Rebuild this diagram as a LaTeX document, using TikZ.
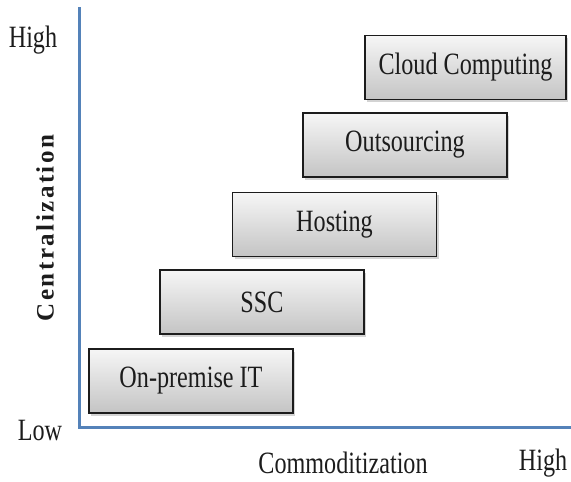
\documentclass[tikz,border=0pt]{standalone}
\usepackage{xcolor}
\usepackage{fontspec}
\setmainfont{Liberation Serif}
\newfontfamily\narrowfont[FakeStretch=0.78]{Liberation Serif}
\newfontfamily\spacedfont[LetterSpace=10]{Liberation Serif}
\usepackage{tikz}
\usetikzlibrary{shadows}

\definecolor{axisblue}{RGB}{84,130,185}
\definecolor{boxtop}{RGB}{246,246,246}
\definecolor{boxbottom}{RGB}{196,196,196}
\definecolor{inkgray}{RGB}{28,28,28}

\tikzset{
  stage/.style={draw=inkgray, line width=1.2pt, top color=boxtop, bottom color=boxbottom,
    minimum width=204pt, minimum height=64pt, inner sep=0pt,
    drop shadow={shadow xshift=2pt, shadow yshift=-2.5pt, opacity=0.35},
    font=\narrowfont\fontsize{31}{32}\selectfont, text=inkgray},
  ticklabel/.style={font=\narrowfont\fontsize{31}{32}\selectfont, text=inkgray},
  axis/.style={axisblue, line width=3pt}
}

\begin{document}
\begin{tikzpicture}[x=1pt,y=-1pt]
  \useasboundingbox (0,0) rectangle (571,482);

  % axes
  \coordinate (origin) at (79,427);
  \coordinate (ytop) at (79,7);
  \coordinate (xend) at (571,427);
  \draw[axis] (ytop) -- (origin) -- (xend);

  % stages
  \node[stage] (onprem) at (191,381) {On-premise IT};
  \node[stage] (ssc) at (262,302) {SSC};
  \node[stage] (hosting) at (334.5,224.5) {Hosting};
  \node[stage] (outsourcing) at (405,145) {Outsourcing};
  \node[stage, minimum width=201pt] (cloud) at (465.5,67.5) {Cloud Computing};

  % axis labels
  \node[ticklabel] (yhigh) at (33,40) {High};
  \node[ticklabel] (ylow) at (40,430) {Low};
  \node[ticklabel] (xlabel) at (343,463) {Commoditization};
  \node[ticklabel] (xhigh) at (543,463) {High};
  \node[rotate=90, font=\spacedfont\bfseries\fontsize{25}{26}\selectfont, text=inkgray] (ylabel) at (45,228) {Centralization};
\end{tikzpicture}
\end{document}
